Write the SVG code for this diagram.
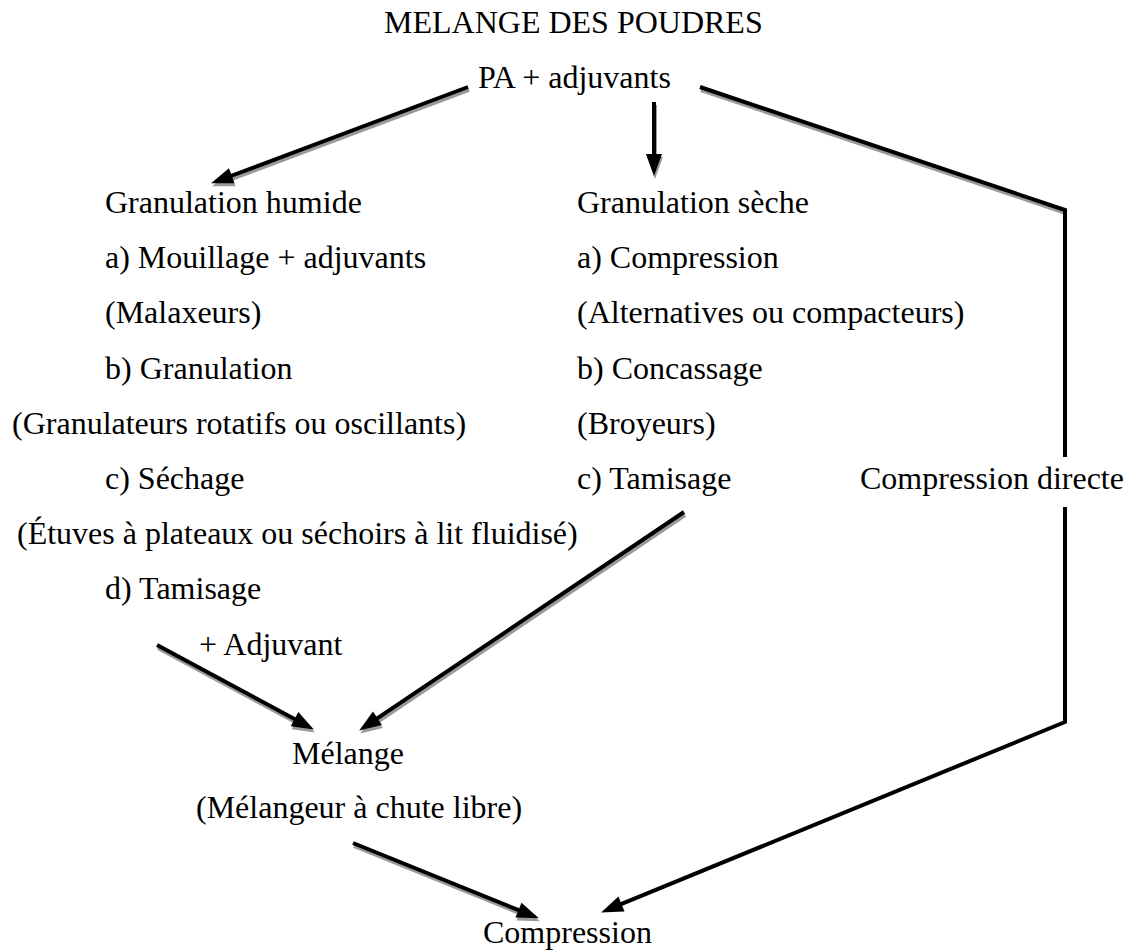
<svg xmlns="http://www.w3.org/2000/svg" width="1126" height="951" viewBox="0 0 1126 951">
<style>
text{font-family:"Liberation Serif","Times New Roman",serif;font-size:32px;fill:#000}
.ln{fill:none;stroke:#000;stroke-width:4}
.sh{fill:none;stroke:#9a9a9a;stroke-width:4}
</style>
<defs>
<marker id="ah" markerUnits="userSpaceOnUse" markerWidth="22" markerHeight="16" refX="11" refY="8" orient="auto" overflow="visible"><path d="M0,0 L22,8 L0,16 z" fill="#000"/></marker>
<marker id="ahs" markerUnits="userSpaceOnUse" markerWidth="22" markerHeight="16" refX="11" refY="8" orient="auto" overflow="visible"><path d="M0,0 L22,8 L0,16 z" fill="#9a9a9a"/></marker>
</defs>
<rect width="1126" height="951" fill="#fff"/>
<g id="connectors">
<g id="shadows" transform="translate(1,3)">
<path class="sh" d="M468,87 L221.4,179.5" marker-end="url(#ahs)"/>
<path class="sh" d="M654,102 L654,165" marker-end="url(#ahs)"/>
<path class="sh" d="M700,87 L1065,210"/>
<path class="sh" d="M157,645 L304.2,724.3" marker-end="url(#ahs)"/>
<path class="sh" d="M684,512 L368.3,724.4" marker-end="url(#ahs)"/>
<path class="sh" d="M353,843 L528.7,914.2" marker-end="url(#ahs)"/>
</g>
<path id="e1" class="ln" d="M468,87 L221.4,179.5" marker-end="url(#ah)"/>
<path id="e2" class="ln" d="M654,102 L654,165" marker-end="url(#ah)"/>
<path id="e3a" class="ln" d="M700,87 L1065,210 L1065,457"/>
<path id="e3b" class="ln" d="M1065,507 L1065,722 L611.3,908.2" marker-end="url(#ah)"/>
<path id="e4" class="ln" d="M157,645 L304.2,724.3" marker-end="url(#ah)"/>
<path id="e5" class="ln" d="M684,512 L368.3,724.4" marker-end="url(#ah)"/>
<path id="e6" class="ln" d="M353,843 L528.7,914.2" marker-end="url(#ah)"/>
</g>
<g id="title"><text x="384" y="33">MELANGE DES POUDRES</text></g>
<g id="start"><text x="478" y="88">PA + adjuvants</text></g>
<g id="humide">
<text x="105" y="213">Granulation humide</text>
<text x="105" y="268">a) Mouillage + adjuvants</text>
<text x="105" y="323">(Malaxeurs)</text>
<text x="105" y="379">b) Granulation</text>
<text x="12" y="434">(Granulateurs rotatifs ou oscillants)</text>
<text x="105" y="489">c) Séchage</text>
<text x="17" y="544">(Étuves à plateaux ou séchoirs à lit fluidisé)</text>
<text x="105" y="599">d) Tamisage</text>
<text x="199" y="655">+ Adjuvant</text>
</g>
<g id="seche">
<text x="577" y="213">Granulation sèche</text>
<text x="577" y="268">a) Compression</text>
<text x="577" y="323">(Alternatives ou compacteurs)</text>
<text x="577" y="379">b) Concassage</text>
<text x="577" y="434">(Broyeurs)</text>
<text x="577" y="489">c) Tamisage</text>
</g>
<g id="directe"><text x="860" y="489">Compression directe</text></g>
<g id="melange">
<text x="292" y="764">Mélange</text>
<text x="196" y="818">(Mélangeur à chute libre)</text>
</g>
<g id="compression"><text x="483" y="943">Compression</text></g>
</svg>
